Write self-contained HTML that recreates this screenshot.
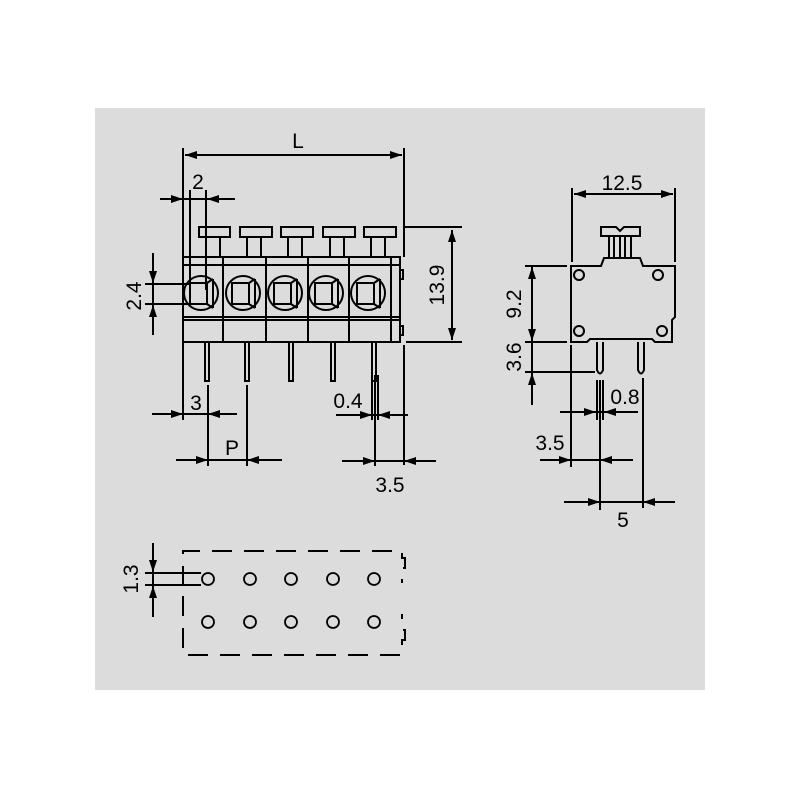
<!DOCTYPE html>
<html><head><style>
html,body{margin:0;padding:0;background:#fff;}
svg{display:block;}
text{font-family:"Liberation Sans",sans-serif;font-size:21px;fill:#000;}
</style></head><body>
<svg width="800" height="800" viewBox="0 0 800 800" xmlns="http://www.w3.org/2000/svg">
<defs>
<marker id="a" viewBox="0 0 12 8" refX="12" refY="4" markerWidth="12" markerHeight="8" markerUnits="userSpaceOnUse" orient="auto"><path d="M0,0 L12,4 L0,8 z" fill="#000"/></marker>
</defs>
<rect x="95" y="108" width="610" height="582" fill="#dcdcdc"/>
<g stroke="#000" stroke-width="2" fill="none">
<rect x="183" y="257" width="217" height="85"/>
<line x1="183" y1="265" x2="400" y2="265"/>
<line x1="183" y1="317" x2="400" y2="317"/>
<line x1="183" y1="320" x2="400" y2="320"/>
<line x1="223" y1="257" x2="223" y2="342"/>
<line x1="266" y1="257" x2="266" y2="342"/>
<line x1="308" y1="257" x2="308" y2="342"/>
<line x1="349" y1="257" x2="349" y2="342"/>
<line x1="391" y1="257" x2="391" y2="342"/>
<rect x="400" y="270" width="3" height="9"/>
<rect x="400" y="326" width="3" height="9"/>
</g>
<g stroke="#000" stroke-width="2" fill="none">
<g transform="translate(201,0)"><circle cx="0" cy="293" r="17"/><rect x="-11" y="283" width="17" height="21"/><path d="M6,283 L12,279 M6,304 L12,308 M12,279 V308"/><rect x="-2" y="227" width="31" height="10"/><line x1="5" y1="237" x2="5" y2="257"/><line x1="19" y1="237" x2="19" y2="257"/><rect x="4" y="342" width="4" height="39"/></g>
<g transform="translate(243,0)"><circle cx="0" cy="293" r="17"/><rect x="-11" y="283" width="17" height="21"/><path d="M6,283 L12,279 M6,304 L12,308 M12,279 V308"/><rect x="-3" y="227" width="32" height="10"/><line x1="4" y1="237" x2="4" y2="257"/><line x1="18" y1="237" x2="18" y2="257"/><rect x="2" y="342" width="4" height="39"/></g>
<g transform="translate(285,0)"><circle cx="0" cy="293" r="17"/><rect x="-11" y="283" width="17" height="21"/><path d="M6,283 L12,279 M6,304 L12,308 M12,279 V308"/><rect x="-4" y="227" width="32" height="10"/><line x1="3" y1="237" x2="3" y2="257"/><line x1="17" y1="237" x2="17" y2="257"/><rect x="4" y="342" width="4" height="39"/></g>
<g transform="translate(326,0)"><circle cx="0" cy="293" r="17"/><rect x="-11" y="283" width="17" height="21"/><path d="M6,283 L12,279 M6,304 L12,308 M12,279 V308"/><rect x="-3" y="227" width="32" height="10"/><line x1="4" y1="237" x2="4" y2="257"/><line x1="18" y1="237" x2="18" y2="257"/><rect x="5" y="342" width="4" height="39"/></g>
<g transform="translate(368,0)"><circle cx="0" cy="293" r="17"/><rect x="-11" y="283" width="17" height="21"/><path d="M6,283 L12,279 M6,304 L12,308 M12,279 V308"/><rect x="-4" y="227" width="32" height="10"/><line x1="3" y1="237" x2="3" y2="257"/><line x1="17" y1="237" x2="17" y2="257"/><rect x="4" y="342" width="4" height="39"/></g>
</g>
<g stroke="#000" stroke-width="2" fill="none">
<line x1="183" y1="148" x2="183" y2="420"/>
<line x1="404" y1="148" x2="404" y2="257"/>
<line x1="404" y1="345" x2="404" y2="465"/>
<line x1="185" y1="155" x2="402" y2="155" marker-end="url(#a)"/>
<line x1="402" y1="155" x2="185" y2="155" marker-end="url(#a)"/>
<line x1="190" y1="190" x2="190" y2="290"/>
<line x1="206" y1="190" x2="206" y2="290"/>
<line x1="160" y1="199" x2="235" y2="199"/>
<line x1="160" y1="199" x2="183" y2="199" marker-end="url(#a)"/>
<line x1="235" y1="199" x2="207" y2="199" marker-end="url(#a)"/>
<line x1="145" y1="284" x2="190" y2="284"/>
<line x1="145" y1="304" x2="190" y2="304"/>
<line x1="153" y1="253" x2="153" y2="335"/>
<line x1="153" y1="253" x2="153" y2="283" marker-end="url(#a)"/>
<line x1="153" y1="335" x2="153" y2="305" marker-end="url(#a)"/>
<line x1="404" y1="227" x2="462" y2="227"/>
<line x1="406" y1="342" x2="462" y2="342"/>
<line x1="452" y1="230" x2="452" y2="340" marker-end="url(#a)"/>
<line x1="452" y1="340" x2="452" y2="230" marker-end="url(#a)"/>
<line x1="208" y1="385" x2="208" y2="466"/>
<line x1="152" y1="414" x2="237" y2="414"/>
<line x1="152" y1="414" x2="183" y2="414" marker-end="url(#a)"/>
<line x1="237" y1="414" x2="208" y2="414" marker-end="url(#a)"/>
<line x1="247" y1="385" x2="247" y2="466"/>
<line x1="176" y1="460" x2="282" y2="460"/>
<line x1="176" y1="460" x2="208" y2="460" marker-end="url(#a)"/>
<line x1="282" y1="460" x2="247" y2="460" marker-end="url(#a)"/>
<line x1="372" y1="375" x2="372" y2="420"/>
<line x1="375" y1="375" x2="375" y2="466"/>
<line x1="378" y1="375" x2="378" y2="420"/>
<line x1="336" y1="415" x2="408" y2="415"/>
<line x1="336" y1="415" x2="372" y2="415" marker-end="url(#a)"/>
<line x1="408" y1="415" x2="378" y2="415" marker-end="url(#a)"/>
<line x1="342" y1="461" x2="436" y2="461"/>
<line x1="342" y1="461" x2="375" y2="461" marker-end="url(#a)"/>
<line x1="436" y1="461" x2="404" y2="461" marker-end="url(#a)"/>

<line x1="572" y1="188" x2="572" y2="262"/>
<line x1="675" y1="188" x2="675" y2="262"/>
<line x1="574" y1="194" x2="673" y2="194" marker-end="url(#a)"/>
<line x1="673" y1="194" x2="574" y2="194" marker-end="url(#a)"/>
<path d="M571,266 H601 L604,258 H640 L643,266 H675 V317 L672,320 V342 H655 L652,339 H590 L587,342 H571 Z"/>
<circle cx="579" cy="275" r="5"/><circle cx="658" cy="275" r="5"/>
<circle cx="579" cy="331" r="5"/><circle cx="662" cy="331" r="5"/>
<path d="M601,227 H616 L620,231 L624,227 H640 V236 H601 Z"/>
<line x1="609" y1="236" x2="609" y2="258"/><line x1="614" y1="236" x2="614" y2="258"/>
<line x1="620" y1="236" x2="620" y2="258"/><line x1="625" y1="236" x2="625" y2="258"/>
<line x1="631" y1="236" x2="631" y2="258"/>
<path d="M597,342 V370 Q600,377 603,370 V342"/>
<path d="M638,342 V370 Q641,377 644,370 V342"/>
<line x1="525" y1="266" x2="567" y2="266"/>
<line x1="525" y1="342" x2="567" y2="342"/>
<line x1="525" y1="372" x2="595" y2="372"/>
<line x1="532" y1="304" x2="532" y2="267" marker-end="url(#a)"/>
<line x1="532" y1="304" x2="532" y2="341" marker-end="url(#a)"/>
<line x1="532" y1="341" x2="532" y2="372"/>
<line x1="532" y1="405" x2="532" y2="373" marker-end="url(#a)"/>
<line x1="571" y1="345" x2="571" y2="467"/>
<line x1="597" y1="380" x2="597" y2="420"/>
<line x1="600" y1="380" x2="600" y2="510"/>
<line x1="603" y1="380" x2="603" y2="420"/>
<line x1="643" y1="378" x2="643" y2="508"/>
<line x1="560" y1="412" x2="638" y2="412"/>
<line x1="560" y1="412" x2="596" y2="412" marker-end="url(#a)"/>
<line x1="638" y1="412" x2="604" y2="412" marker-end="url(#a)"/>
<line x1="540" y1="460" x2="633" y2="460"/>
<line x1="540" y1="460" x2="571" y2="460" marker-end="url(#a)"/>
<line x1="633" y1="460" x2="600" y2="460" marker-end="url(#a)"/>
<line x1="564" y1="502" x2="675" y2="502"/>
<line x1="564" y1="502" x2="600" y2="502" marker-end="url(#a)"/>
<line x1="675" y1="502" x2="643" y2="502" marker-end="url(#a)"/>

<path d="M183,586 V551 H402 V558 H405 V568 H402 V583" stroke-dasharray="20,12"/>
<path d="M183,596 V655 H402 V640 H405 V630 H402 V614" stroke-dasharray="20,12"/>
<g stroke-width="1.8">
<circle cx="208" cy="579" r="6"/><circle cx="250" cy="579" r="6"/><circle cx="291" cy="579" r="6"/><circle cx="333" cy="579" r="6"/><circle cx="374" cy="579" r="6"/>
<circle cx="208" cy="622" r="6"/><circle cx="250" cy="622" r="6"/><circle cx="291" cy="622" r="6"/><circle cx="333" cy="622" r="6"/><circle cx="374" cy="622" r="6"/>
</g>
<line x1="145" y1="573" x2="201" y2="573"/>
<line x1="145" y1="585" x2="201" y2="585"/>
<line x1="153" y1="543" x2="153" y2="617"/>
<line x1="153" y1="543" x2="153" y2="572" marker-end="url(#a)"/>
<line x1="153" y1="617" x2="153" y2="586" marker-end="url(#a)"/>
</g>
<g>
<text x="298" y="148" text-anchor="middle">L</text>
<text x="198" y="189" text-anchor="middle">2</text>
<text x="196" y="410" text-anchor="middle">3</text>
<text x="232" y="455" text-anchor="middle">P</text>
<text x="348" y="408" text-anchor="middle">0.4</text>
<text x="390" y="492" text-anchor="middle">3.5</text>
<text x="622" y="190" text-anchor="middle">12.5</text>
<text x="625" y="404" text-anchor="middle">0.8</text>
<text x="550" y="450" text-anchor="middle">3.5</text>
<text x="623" y="527" text-anchor="middle">5</text>
<text transform="translate(141,296) rotate(-90)" text-anchor="middle">2.4</text>
<text transform="translate(444,285) rotate(-90)" text-anchor="middle">13.9</text>
<text transform="translate(521,304) rotate(-90)" text-anchor="middle">9.2</text>
<text transform="translate(521,357) rotate(-90)" text-anchor="middle">3.6</text>
<text transform="translate(138,579) rotate(-90)" text-anchor="middle">1.3</text>
</g>
</svg>
</body></html>
